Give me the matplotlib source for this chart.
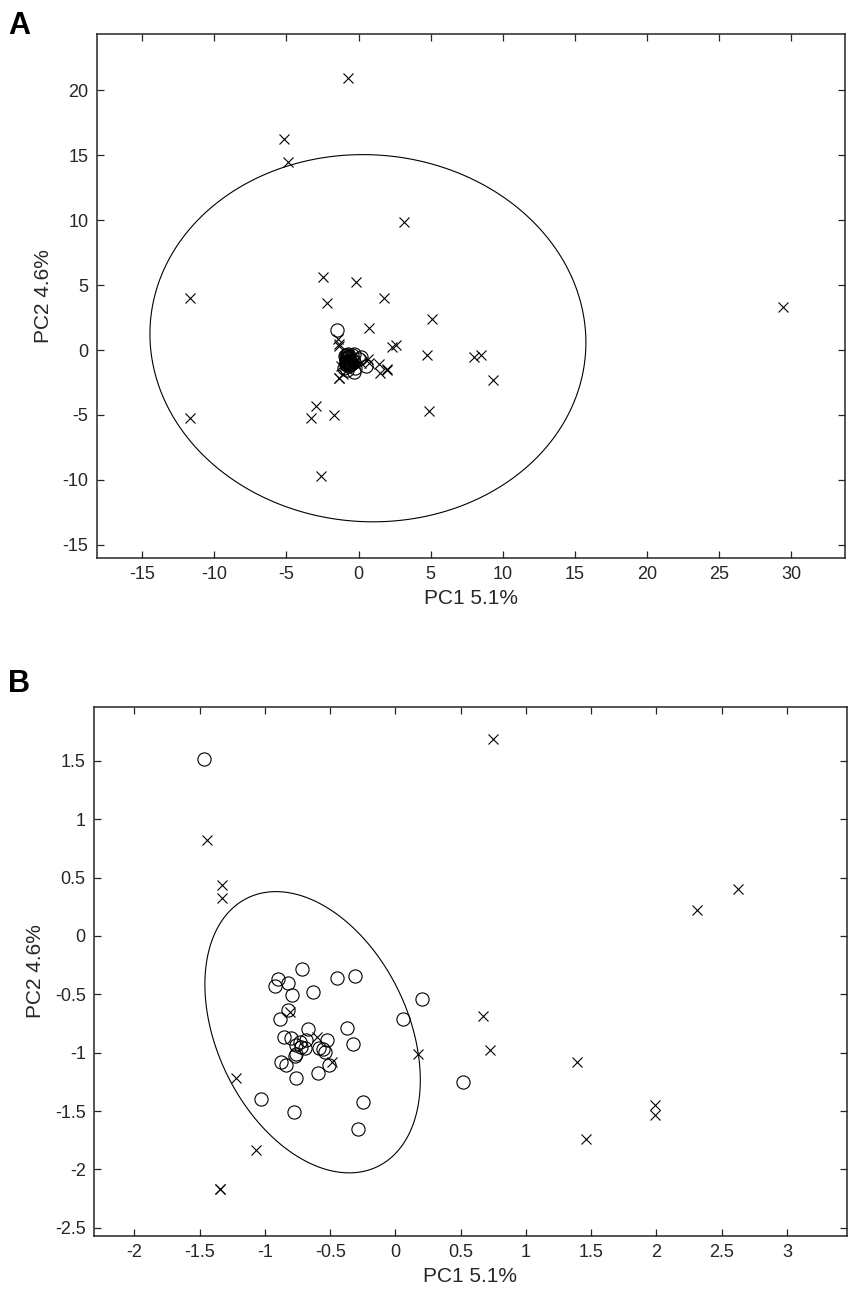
import numpy as np
import matplotlib
matplotlib.use("Agg")
import matplotlib.pyplot as plt
from matplotlib.ticker import FuncFormatter
from matplotlib.patches import Polygon

plt.rcParams['font.family'] = ['Liberation Sans', 'DejaVu Sans']
plt.rcParams['axes.unicode_minus'] = False

# ---- data: group 1 (circles) ----
circle_x = [-1.465, 0.204, 0.515, 0.056, -0.309, -0.449, -0.715, -0.903, -0.921, -0.825,
            -0.796, -0.633, -0.820, -0.881, -0.373, -0.327, -0.674, -0.855, -0.802, -0.735,
            -0.684, -0.760, -0.523, -0.587, -0.557, -0.538, -0.697, -0.760, -0.773, -0.508,
            -0.878, -0.835, -0.760, -0.590, -1.031, -0.781, -0.245, -0.286, -0.720]
circle_y = [1.519, -0.543, -1.253, -0.711, -0.340, -0.357, -0.286, -0.368, -0.428, -0.406,
            -0.503, -0.477, -0.634, -0.711, -0.791, -0.925, -0.794, -0.863, -0.877, -0.906,
            -0.891, -0.934, -0.888, -0.957, -0.971, -0.997, -0.962, -1.008, -1.031, -1.103,
            -1.077, -1.103, -1.218, -1.174, -1.397, -1.505, -1.420, -1.657, -0.950]

# ---- data: group 2 (crosses) ----
cross_x = [0.750, 2.312, 2.624, 0.669, 0.723, 1.388, 1.988, 1.988, 1.462, 0.171,
           -1.445, -1.330, -1.330, -0.810, -0.600, -0.490, -1.225, -1.067, -1.348, -1.343,
           -0.76, -5.18, -4.88, 3.14, -2.47, -0.15, -11.69, -2.16, 1.74, 5.10,
           4.77, 8.00, 8.51, 9.34, 29.40, -11.69, -2.96, -3.27, -1.72, 4.88, -2.61]
cross_y = [1.686, 0.221, 0.402, -0.690, -0.976, -1.082, -1.446, -1.532, -1.739, -1.011,
           0.825, 0.434, 0.323, -0.650, -0.870, -1.080, -1.214, -1.834, -2.171, -2.165,
           20.95, 16.28, 14.46, 9.86, 5.62, 5.22, 3.98, 3.66, 3.97, 2.40,
           -0.39, -0.53, -0.39, -2.31, 3.29, -5.26, -4.30, -5.27, -4.98, -4.69, -9.71]

# ---- confidence ellipses: centre and covariance-like matrix ----
ellA_center = [0.65, 0.91]
ellA_cov = [[228.3, -5.0], [-5.0, 200.0]]
ellB_center = [-0.635, -0.825]
ellB_cov = [[0.681, -0.338], [-0.338, 1.452]]

xlabel = 'PC1 5.1%'
ylabel = 'PC2 4.6%'

W, H = 854, 1296
fig = plt.figure(figsize=(W / 100, H / 100), dpi=100)

axA = fig.add_axes([96.7 / W, 1 - 558 / H, (844.7 - 96.7) / W, (558 - 34.3) / H])
axB = fig.add_axes([94 / W, 1 - 1236 / H, (847 - 94) / W, (1236 - 707) / H])

fmt = FuncFormatter(lambda v, p: ('%g' % round(v, 6)))
spine_col = '#262626'


def ellipse(ax, center, cov):
    t = np.linspace(0, 2 * np.pi, 400, endpoint=False)
    L = np.linalg.cholesky(np.array(cov))
    pts = L @ np.vstack([np.cos(t), np.sin(t)])
    xy = np.column_stack([center[0] + pts[0], center[1] + pts[1]])
    ax.add_patch(Polygon(xy, closed=True, fill=False, edgecolor='black', lw=0.8))


def style(ax, xlim, ylim, xticks, yticks):
    ax.set_xlim(*xlim)
    ax.set_ylim(*ylim)
    ax.set_xticks(xticks)
    ax.set_yticks(yticks)
    ax.xaxis.set_major_formatter(fmt)
    ax.yaxis.set_major_formatter(fmt)
    ax.tick_params(direction='in', length=5, width=0.9, top=True, right=True,
                   labelsize=13, colors=spine_col, pad=6)
    for s in ax.spines.values():
        s.set_color(spine_col)
        s.set_linewidth(1.1)
    ax.set_xlabel(xlabel, fontsize=15, color=spine_col, labelpad=4)
    ax.set_ylabel(ylabel, fontsize=15, color=spine_col, labelpad=7)


for ax, cen, cov in [(axA, ellA_center, ellA_cov), (axB, ellB_center, ellB_cov)]:
    ellipse(ax, cen, cov)
    ax.plot(cross_x, cross_y, linestyle='none', marker='x', ms=7, mew=0.8, color='black')
    ax.plot(circle_x, circle_y, linestyle='none', marker='o', ms=9.5, mew=0.8,
            mfc='none', mec='black')

style(axA, (-18.15, 33.7), (-16.02, 24.32), np.arange(-15, 31, 5), np.arange(-15, 21, 5))
style(axB, (-2.31, 3.46), (-2.571, 1.962), np.arange(-2, 3.01, 0.5), np.arange(-2.5, 1.51, 0.5))

fig.text(8 / W, 1 - 11 / H, 'A', ha='left', va='top', fontsize=22, fontweight='bold')
fig.text(8 / W, 1 - 669 / H, 'B', ha='left', va='top', fontsize=22, fontweight='bold')

fig.savefig('out.png', dpi=100, facecolor='white')
